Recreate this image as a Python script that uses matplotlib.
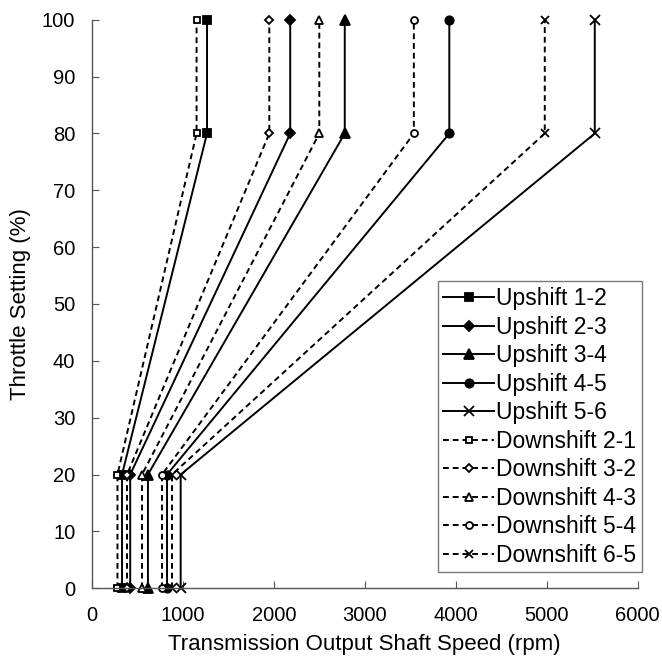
import matplotlib.pyplot as plt

plt.rcParams['font.family'] = ['Liberation Sans', 'DejaVu Sans']

# throttle breakpoints shared by every shift line
throttle = [0, 20, 80, 100]

# output shaft speed (rpm) at each throttle breakpoint
upshift_12 = [330, 330, 1265, 1265]
upshift_23 = [420, 420, 2180, 2180]
upshift_34 = [615, 615, 2780, 2780]
upshift_45 = [825, 825, 3930, 3930]
upshift_56 = [975, 975, 5530, 5530]
downshift_21 = [280, 280, 1150, 1150]
downshift_32 = [385, 385, 1950, 1950]
downshift_43 = [550, 550, 2500, 2500]
downshift_54 = [770, 770, 3540, 3540]
downshift_65 = [880, 880, 4980, 4980]

up_labels = ['Upshift 1-2', 'Upshift 2-3', 'Upshift 3-4', 'Upshift 4-5', 'Upshift 5-6']
down_labels = ['Downshift 2-1', 'Downshift 3-2', 'Downshift 4-3', 'Downshift 5-4', 'Downshift 6-5']
markers = ['s', 'D', '^', 'o', 'x']
msizes = [6, 5, 7, 6, 7]

fig = plt.figure(figsize=(6.62, 6.58), dpi=100)
ax = fig.add_axes([0.139, 0.106, 0.824, 0.864])

ups = [upshift_12, upshift_23, upshift_34, upshift_45, upshift_56]
downs = [downshift_21, downshift_32, downshift_43, downshift_54, downshift_65]

for spd, lab, m, ms in zip(ups, up_labels, markers, msizes):
    ax.plot(spd, throttle, color='black', lw=1.4, ls='-', marker=m, ms=ms,
            mfc='black', mec='black', mew=1.3, label=lab, clip_on=False)
for spd, lab, m, ms in zip(downs, down_labels, markers, msizes):
    ax.plot(spd, throttle, color='black', lw=1.4, ls=(0, (3, 2)), marker=m, ms=ms - 1,
            mfc='white', mec='black', mew=1.3, label=lab, clip_on=False)

ax.set_xlim(0, 6000)
ax.set_ylim(0, 100)
ax.set_xticks(range(0, 6001, 1000))
ax.set_yticks(range(0, 101, 10))
ax.spines['top'].set_visible(False)
ax.spines['right'].set_visible(False)
for s in ['left', 'bottom']:
    ax.spines[s].set_color('#555555')
    ax.spines[s].set_linewidth(1.0)
ax.tick_params(direction='in', length=5, width=0.8, color='#555555',
               labelsize=14.5)
ax.tick_params(axis='x', pad=13)
ax.tick_params(axis='y', pad=12)
ax.set_xlabel('Transmission Output Shaft Speed (rpm)', fontsize=16, labelpad=6)
ax.set_ylabel('Throttle Setting (%)', fontsize=16, labelpad=8)

leg = ax.legend(loc='lower right', bbox_to_anchor=(1.008, 0.028), fontsize=16.5,
                frameon=True, fancybox=False, handlelength=2.2, handletextpad=0.1,
                labelspacing=0.24, borderpad=0.25, borderaxespad=0.0)
leg.get_frame().set_edgecolor('#555555')
leg.get_frame().set_linewidth(1.0)

fig.savefig('out.png', dpi=100)
